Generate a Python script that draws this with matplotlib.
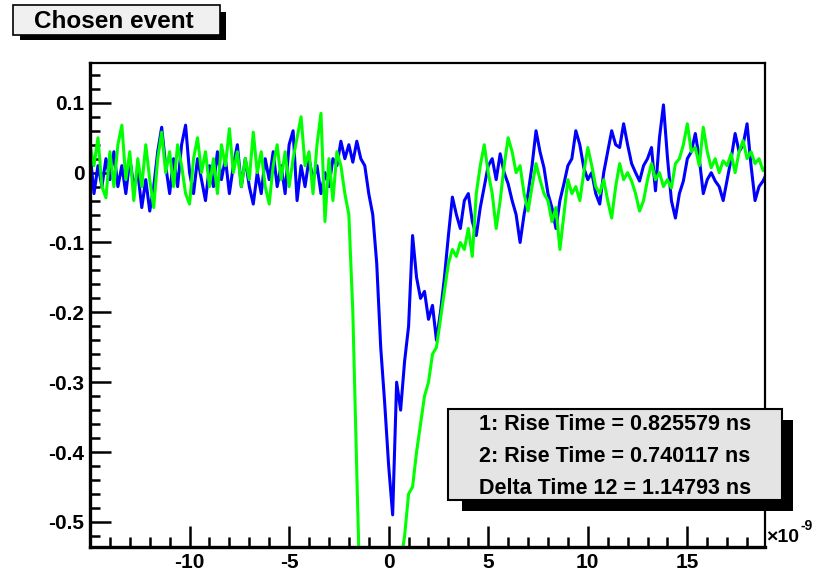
import numpy as np
import matplotlib.pyplot as plt
from matplotlib.patches import Rectangle
from matplotlib.ticker import MultipleLocator

plt.rcParams['font.family'] = ['Liberation Sans', 'DejaVu Sans']
plt.rcParams['font.weight'] = 'bold'

# sampling grid of the scope trace (ns), one sample per 0.2 ns
t_first = -15.0
t_step = 0.2

# channel 1 (blue), volts
ch1 = [0.03, -0.03, 0.01, -0.02, 0.02, -0.01, 0.03, -0.02, 0.01, -0.03,
       0.02, -0.02, 0.00, -0.05, -0.01, -0.055, -0.02, 0.03, 0.065, 0.01,
       -0.03, 0.02, -0.02, 0.04, 0.068, 0.00, -0.03, 0.02, -0.01, -0.04,
       0.01, -0.02, 0.03, -0.01, 0.02, -0.03, 0.01, 0.04, -0.02, 0.02,
       -0.02, -0.045, 0.00, -0.03, 0.02, -0.01, 0.03, -0.02, 0.01, -0.03,
       0.04, 0.06, -0.04, 0.01, -0.02, 0.02, -0.01, 0.01, -0.03, 0.00,
       -0.02, 0.02, 0.01, 0.045, 0.02, 0.04, 0.015, 0.045, 0.02, 0.01,
       -0.03, -0.06, -0.13, -0.25, -0.33, -0.42, -0.49, -0.30, -0.34, -0.27,
       -0.22, -0.09, -0.15, -0.18, -0.17, -0.21, -0.19, -0.24, -0.20, -0.15,
       -0.09, -0.035, -0.06, -0.08, -0.04, -0.03, -0.07, -0.09, -0.05, -0.02,
       0.01, 0.02, -0.01, 0.027, 0.00, -0.016, -0.04, -0.06, -0.10, -0.06,
       -0.03, 0.01, 0.06, 0.03, 0.007, -0.03, -0.05, -0.08, -0.04, -0.016,
       0.01, 0.02, 0.06, 0.04, 0.007, -0.01, 0.00, -0.03, -0.045, 0.00,
       0.03, 0.06, 0.04, 0.036, 0.07, 0.04, 0.013, 0.00, -0.012, 0.01,
       0.02, 0.036, -0.026, 0.05, 0.097, 0.022, -0.04, -0.065, -0.03, -0.012,
       0.02, 0.03, 0.056, 0.02, -0.03, -0.01, 0.00, -0.012, -0.02, -0.04,
       -0.01, 0.02, 0.056, 0.03, 0.04, 0.07, 0.01, -0.04, -0.02, -0.012,
       0.00]

# channel 2 (green), volts
ch2 = [0.04, 0.01, 0.05, -0.02, -0.036, 0.03, -0.02, 0.04, 0.068, -0.01,
       0.03, -0.04, 0.02, -0.02, 0.04, -0.01, -0.05, 0.02, 0.058, 0.00,
       0.03, -0.02, 0.04, 0.01, -0.03, -0.045, 0.02, 0.05, 0.00, 0.03,
       -0.02, 0.02, -0.03, 0.04, 0.01, 0.063, 0.00, 0.03, -0.02, 0.02,
       -0.01, 0.058, 0.00, 0.03, -0.02, -0.045, 0.01, 0.04, -0.01, 0.03,
       -0.02, 0.02, 0.05, 0.08, 0.01, 0.03, -0.03, 0.04, 0.085, -0.07,
       0.02, -0.04, 0.03, 0.01, -0.03, -0.06, -0.20, -0.43, -0.65, -0.80,
       -0.90, -0.95, -0.95, -0.92, -0.85, -0.78, -0.70, -0.62, -0.56, -0.52,
       -0.46, -0.45, -0.40, -0.36, -0.32, -0.30, -0.26, -0.25, -0.21, -0.17,
       -0.13, -0.11, -0.12, -0.10, -0.11, -0.08, -0.12, -0.03, 0.01, 0.04,
       0.00, -0.03, -0.08, -0.04, 0.01, 0.05, 0.03, 0.00, 0.01, -0.03,
       -0.055, -0.02, 0.013, -0.01, -0.03, -0.04, -0.07, -0.05, -0.11, -0.06,
       -0.01, -0.03, -0.02, -0.04, 0.00, 0.036, 0.01, -0.02, -0.03, -0.01,
       -0.04, -0.065, -0.02, 0.013, -0.01, 0.00, -0.012, -0.03, -0.055, -0.04,
       -0.01, 0.013, -0.01, 0.00, -0.02, -0.01, -0.022, 0.013, 0.02, 0.04,
       0.07, 0.03, 0.036, 0.01, 0.065, 0.03, 0.007, 0.02, 0.00, 0.017,
       0.01, 0.027, 0.00, 0.03, 0.046, 0.02, 0.03, 0.013, 0.02, 0.003,
       0.01]

stats_lines = ['1: Rise Time = 0.825579 ns',
               '2: Rise Time = 0.740117 ns',
               'Delta Time 12 = 1.14793 ns']

t = t_first + t_step * np.arange(len(ch1))

W, H = 820, 574
fig = plt.figure(figsize=(W / 100, H / 100), dpi=100)
fig.patch.set_facecolor('white')

def fx(px):
    return px / W

def fy(py):
    return 1 - py / H

ax = fig.add_axes([fx(90), fy(547), fx(765) - fx(90), fy(63) - fy(547)])
ax.plot(t, ch1, color='#0000ff', lw=2.2)
ax.plot(t, ch2, color='#00ff00', lw=2.2)
ax.set_xlim(-15.0, 18.9)
ax.set_ylim(-0.536, 0.157)

ax.xaxis.set_major_locator(MultipleLocator(5))
ax.xaxis.set_minor_locator(MultipleLocator(1))
ax.yaxis.set_major_locator(MultipleLocator(0.1))
ax.yaxis.set_minor_locator(MultipleLocator(0.02))
ax.set_yticks([-0.5, -0.4, -0.3, -0.2, -0.1, 0, 0.1])
ax.set_yticklabels(['-0.5', '-0.4', '-0.3', '-0.2', '-0.1', '0', '0.1'])
ax.set_xticks([-10, -5, 0, 5, 10, 15])
ax.set_xticklabels(['-10', '-5', '0', '5', '10', '15'])
ax.tick_params(which='both', direction='in', right=False, top=False,
               width=1.8, labelsize=15)
ax.tick_params(which='major', length=15, pad=4)
ax.tick_params(which='minor', length=7)
for lab in ax.get_xticklabels() + ax.get_yticklabels():
    lab.set_fontweight('bold')
ax.spines['left'].set_linewidth(2.4)
ax.spines['bottom'].set_linewidth(2.4)
ax.spines['top'].set_linewidth(1.6)
ax.spines['right'].set_linewidth(1.6)

# x10^-9 exponent
fig.text(fx(766), fy(537), '\u00d710', fontsize=14, ha='left', va='center')
fig.text(fx(801), fy(526), '-9', fontsize=10, ha='left', va='center')

# title box with shadow
fig.patches.append(Rectangle((fx(20), fy(40)), fx(226) - fx(20), fy(12) - fy(40),
                             transform=fig.transFigure, facecolor='black',
                             edgecolor='none', zorder=5))
fig.patches.append(Rectangle((fx(13), fy(35)), fx(220) - fx(13), fy(5) - fy(35),
                             transform=fig.transFigure, facecolor='#f0f0f0',
                             edgecolor='black', lw=1.2, zorder=6))
fig.text(fx(114), fy(21), 'Chosen event', fontsize=17.5, ha='center', va='center',
         zorder=7)

# stats box with shadow
fig.patches.append(Rectangle((fx(462), fy(511)), fx(793) - fx(462), fy(420) - fy(511),
                             transform=fig.transFigure, facecolor='black',
                             edgecolor='none', zorder=5))
fig.patches.append(Rectangle((fx(448), fy(500)), fx(782) - fx(448), fy(409) - fy(500),
                             transform=fig.transFigure, facecolor='#e4e4e4',
                             edgecolor='black', lw=1.5, zorder=6))
for k, line in enumerate(stats_lines):
    fig.text(fx(615), fy(425 + 31.5 * k), line, fontsize=15.5, ha='center',
             va='center', zorder=7)

fig.savefig('out.png', dpi=100)
